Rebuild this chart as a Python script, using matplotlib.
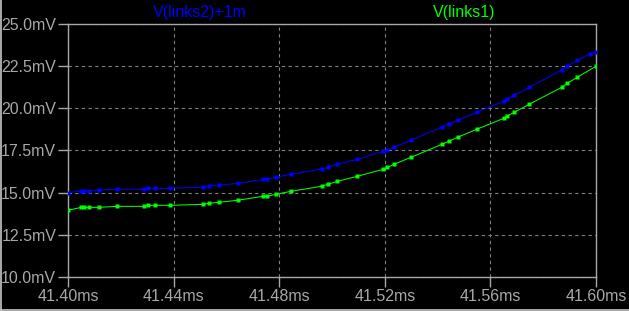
import matplotlib
matplotlib.use("Agg")
import matplotlib.pyplot as plt
from matplotlib.lines import Line2D

# time in ms
t_blue = [41.4000, 41.4050, 41.4062, 41.4078, 41.4116, 41.4187, 41.4287, 41.4302, 41.4331,
          41.4388, 41.4510, 41.4533, 41.4571, 41.4643, 41.4740, 41.4755, 41.4787, 41.4844,
          41.4961, 41.4986, 41.5020, 41.5096, 41.5194, 41.5210, 41.5235, 41.5299, 41.5416,
          41.5442, 41.5476, 41.5548, 41.5651, 41.5662, 41.5691, 41.5747, 41.5870, 41.5891,
          41.5929, 41.5977, 41.6000]
v_blue = [14.99, 15.09, 15.11, 15.11, 15.13, 15.19, 15.19, 15.25, 15.25,
          15.25, 15.31, 15.37, 15.43, 15.54, 15.78, 15.78, 15.90, 16.08,
          16.39, 16.49, 16.67, 16.96, 17.44, 17.49, 17.67, 18.09, 18.88,
          19.04, 19.27, 19.75, 20.40, 20.51, 20.75, 21.22, 22.25, 22.47,
          22.82, 23.22, 23.30]

t_green = [41.4000, 41.4050, 41.4062, 41.4078, 41.4116, 41.4187, 41.4287, 41.4302, 41.4331,
           41.4388, 41.4510, 41.4533, 41.4571, 41.4643, 41.4740, 41.4755, 41.4787, 41.4844,
           41.4961, 41.4986, 41.5020, 41.5096, 41.5194, 41.5210, 41.5235, 41.5299, 41.5416,
           41.5442, 41.5476, 41.5548, 41.5651, 41.5662, 41.5691, 41.5747, 41.5870, 41.5891,
           41.5929, 41.6000]
v_green = [13.95, 14.12, 14.12, 14.12, 14.12, 14.18, 14.18, 14.24, 14.24,
           14.24, 14.30, 14.36, 14.42, 14.54, 14.78, 14.78, 14.89, 15.07,
           15.37, 15.49, 15.66, 15.96, 16.37, 16.48, 16.67, 17.08, 17.85,
           18.03, 18.27, 18.74, 19.39, 19.51, 19.75, 20.22, 21.22, 21.46,
           21.82, 22.47]

x_ticks = [41.40, 41.44, 41.48, 41.52, 41.56, 41.60]
x_labels = ["41.40ms", "41.44ms", "41.48ms", "41.52ms", "41.56ms", "41.60ms"]
y_ticks = [10.0, 12.5, 15.0, 17.5, 20.0, 22.5, 25.0]
y_labels = ["10.0mV", "12.5mV", "15.0mV", "17.5mV", "20.0mV", "22.5mV", "25.0mV"]

plt.rcParams['font.family'] = ['Liberation Sans', 'DejaVu Sans']

fig = plt.figure(figsize=(6.29, 3.11), dpi=100, facecolor='black')
ax = fig.add_axes([68/629, 34/311, 528/629, 253.5/311], facecolor='black')

frame_col = '#a8a8a8'
grid_col = '#808080'

ax.plot(t_blue, v_blue, color='#0000ff', lw=0.75, marker='s', ms=2.6, mec='none', zorder=3)
ax.plot(t_green, v_green, color='#00ff00', lw=0.75, marker='s', ms=2.6, mec='none', zorder=3)

ax.set_xlim(41.40, 41.60)
ax.set_ylim(10.0, 25.0)
ax.set_xticks(x_ticks)
ax.set_xticklabels(x_labels)
ax.set_yticks(y_ticks)
ax.set_yticklabels(y_labels)

for s in ax.spines.values():
    s.set_color(frame_col)
    s.set_linewidth(1.0)

ax.tick_params(axis='both', colors=frame_col, labelcolor=frame_col, length=7.5, width=1.0,
               direction='out', labelsize=11.5, pad=1)
ax.grid(True, color=grid_col, linestyle=(0, (3, 3)), linewidth=0.8)
ax.set_axisbelow(True)

fig.text(200/629, 1 - 12/311, "V(links2)+1m", color='#0000ff', fontsize=11.5,
         ha='center', va='center')
fig.text(464/629, 1 - 12/311, "V(links1)", color='#00ff00', fontsize=11.5,
         ha='center', va='center')

# window border lines (left and bottom)
fig.add_artist(Line2D([0.8/629, 0.8/629], [0, 1], transform=fig.transFigure,
                      color='#c8c8c8', lw=1.2))
fig.add_artist(Line2D([0, 1], [1.2/311, 1.2/311], transform=fig.transFigure,
                      color='#c8c8c8', lw=1.2))

fig.savefig("out.png", dpi=100, facecolor='black')
